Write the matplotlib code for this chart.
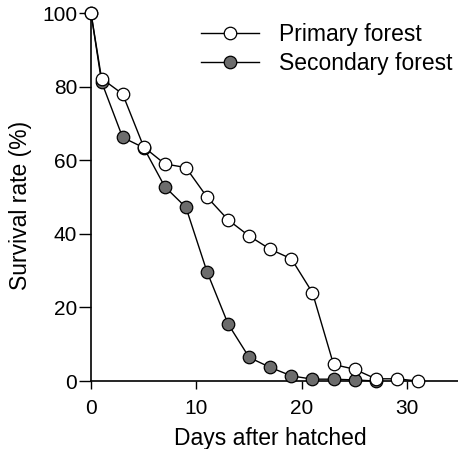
import matplotlib
matplotlib.use("Agg")
import matplotlib.pyplot as plt

plt.rcParams['font.family'] = ['Liberation Sans', 'DejaVu Sans']

# days after hatching
primary_days = [0, 1, 3, 5, 7, 9, 11, 13, 15, 17, 19, 21, 23, 25, 27, 29, 31]
primary_surv = [100, 82.2, 78, 63.6, 59, 58, 50, 43.8, 39.4, 35.8, 33.2, 24, 4.5, 3.2, 0.6, 0.6, 0]

secondary_days = [0, 1, 3, 5, 7, 9, 11, 13, 15, 17, 19, 21, 23, 25, 27]
secondary_surv = [100, 81.3, 66.2, 63.4, 52.8, 47.2, 29.7, 15.5, 6.4, 3.7, 1.4, 0.5, 0.5, 0.3, 0]

fig = plt.figure(figsize=(4.58, 4.49), dpi=100)
ax = fig.add_axes([0.1987, 0.1514, 0.8013, 0.8196])

ax.plot(secondary_days, secondary_surv, color='black', lw=1, marker='o',
        markersize=9, markerfacecolor='#6c6c6c', markeredgecolor='black',
        markeredgewidth=0.9, label='Secondary forest', clip_on=False, zorder=3)
ax.plot(primary_days, primary_surv, color='black', lw=1, marker='o',
        markersize=9, markerfacecolor='white', markeredgecolor='black',
        markeredgewidth=0.9, label='Primary forest', clip_on=False, zorder=4)

ax.set_xlim(0, 34.8)
ax.set_ylim(0, 100)
ax.set_xticks([0, 10, 20, 30])
ax.set_yticks([0, 20, 40, 60, 80, 100])
ax.spines['top'].set_visible(False)
ax.spines['right'].set_visible(False)
ax.spines['left'].set_linewidth(1.2)
ax.spines['bottom'].set_linewidth(1.2)
ax.tick_params(direction='out', width=1, labelsize=15)
ax.tick_params(axis='x', length=6, pad=7)
ax.tick_params(axis='y', length=8.5, pad=1.5)

ax.set_xlabel('Days after hatched', fontsize=16.5)
ax.set_ylabel('Survival rate (%)', fontsize=16.5)
ax.xaxis.set_label_coords(0.488, -0.125)
ax.yaxis.set_label_coords(-0.161, 0.476)

handles, labels = ax.get_legend_handles_labels()
ax.legend(handles[::-1], labels[::-1], loc='upper left',
          bbox_to_anchor=(0.30, 0.973), frameon=False, fontsize=16.5,
          handlelength=2.53, handletextpad=0.87, labelspacing=0.28,
          borderpad=0, borderaxespad=0)

fig.savefig('out.png', dpi=100)
